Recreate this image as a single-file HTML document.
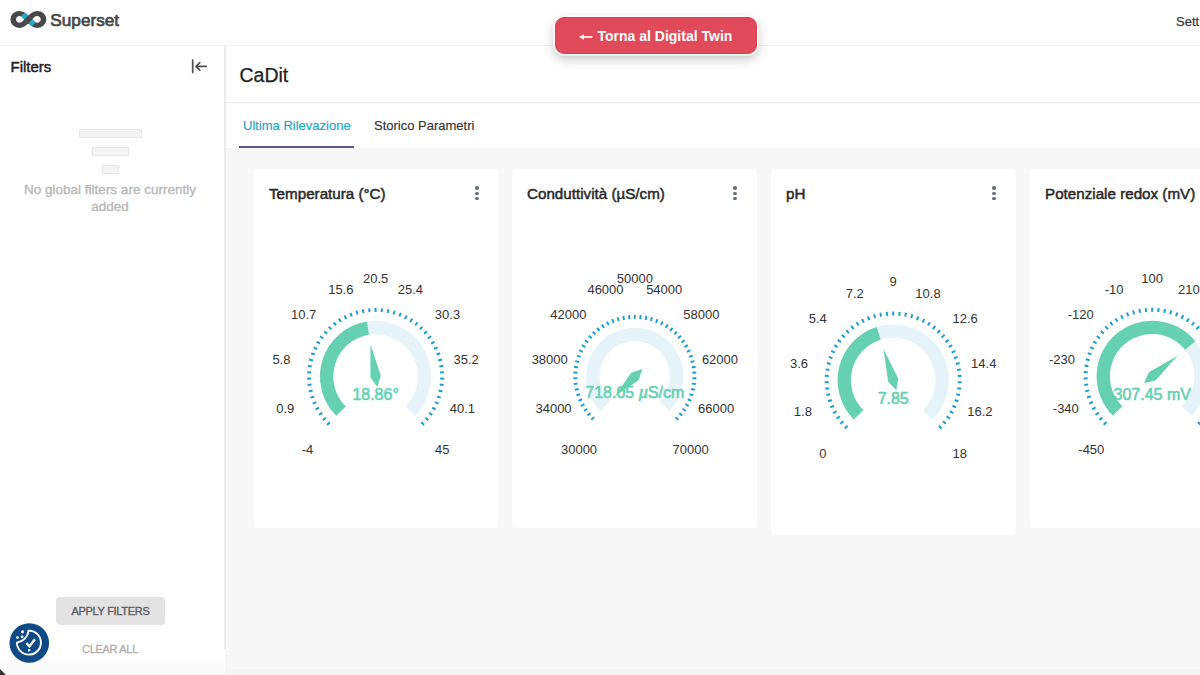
<!DOCTYPE html>
<html><head><meta charset="utf-8">
<style>
*{box-sizing:border-box;margin:0;padding:0}
html,body{width:1200px;height:675px;overflow:hidden;background:#fff;font-family:"Liberation Sans",sans-serif;color:#333}
.abs{position:absolute;white-space:nowrap}
#header{position:absolute;left:0;top:0;width:1200px;height:46px;background:#fff;border-bottom:1px solid #efefef}
#side{position:absolute;left:0;top:46px;width:225px;height:629px;background:#fff}
#sideb{position:absolute;left:224px;top:46px;width:1.5px;height:603px;background:#ebebeb}
#main{position:absolute;left:225px;top:46px;width:975px;height:629px;background:#fff}
#grid{position:absolute;left:225px;top:148px;width:975px;height:527px;background:#f7f7f7}
.card{position:absolute;top:169px;height:359px;background:#fff;border-radius:4px}
.ctitle{position:absolute;left:15px;top:15.7px;font-size:15.2px;color:#2a2a2a;white-space:nowrap;-webkit-text-stroke:0.5px #2a2a2a}
.kebab{position:absolute;top:17px;width:4px;height:14px}
.kebab i{position:absolute;left:0;width:3.6px;height:3.6px;border-radius:50%;background:#65717e}
#btn{position:absolute;left:555px;top:17px;width:202px;height:37px;background:#e04a5a;border-radius:9px;box-shadow:0 0 0 1.5px #fff,0 4px 12px rgba(0,0,0,0.28);border:1px solid #d8404f}
#btn span{position:absolute;left:41.5px;top:10px;font-weight:bold;font-size:14px;line-height:16px;color:#fff}
svg text{font-family:"Liberation Sans",sans-serif}
</style></head>
<body>
<div id="header">
  <svg class="abs" style="left:0;top:0" width="50" height="40" viewBox="0 0 50 40"><g transform="translate(28.35,0) scale(1.075,1) translate(-28.2,0)">
    <path d="M24.24 15.3 L32.16 23.5 A5.9 5.9 0 1 0 32.16 15.3 L24.24 23.5 A5.9 5.9 0 1 1 24.24 15.3 Z" fill="none" stroke="#484848" stroke-width="5.2"/>
    <path d="M23.2 14.2 L33.2 24.6" stroke="#20a7c9" stroke-width="5.2"/>
    <path d="M26.3 21.35 L30.1 17.45" stroke="#484848" stroke-width="5.3"/>
  </g></svg>
  <div class="abs" style="left:50.3px;top:9.9px;font-size:17.2px;color:#474747;-webkit-text-stroke:0.7px #474747">Superset</div>
  <div class="abs" style="left:1176px;top:13.8px;font-size:13px;color:#333;-webkit-text-stroke:0.2px #333">Sett</div>
</div>
<div id="side">
  <div class="abs" style="left:10.5px;top:11.5px;font-size:15px;color:#222;-webkit-text-stroke:0.5px #222">Filters</div>
  <svg class="abs" style="left:190px;top:12px" width="18" height="16" viewBox="0 0 18 16">
    <path d="M2.7 2 V14.4" stroke="#505050" stroke-width="1.7" stroke-linecap="round"/>
    <path d="M16.2 8.4 H6 M9.8 4.6 L6 8.4 L9.8 12.2" stroke="#505050" stroke-width="1.7" fill="none" stroke-linecap="round"/>
  </svg>
  <div class="abs" style="left:79px;top:83px;width:63px;height:9px;border:1.5px solid #e6e6e6;background:#f4f4f4"></div>
  <div class="abs" style="left:92px;top:101px;width:37px;height:9px;border:1.5px solid #e6e6e6;background:#f4f4f4"></div>
  <div class="abs" style="left:102px;top:119px;width:17px;height:9px;border:1.5px solid #e6e6e6;background:#f4f4f4"></div>
  <div class="abs" style="left:0;top:135px;width:220px;text-align:center;font-size:13.5px;line-height:17px;color:#b8b8b8;-webkit-text-stroke:0.35px #b8b8b8">No global filters are currently<br>added</div>
  <div class="abs" style="left:56px;top:551px;width:109px;height:28px;background:#e3e3e3;border-radius:4px"></div>
  <div class="abs" style="left:56px;top:558px;width:109px;text-align:center;font-size:11px;line-height:14px;letter-spacing:-0.3px;color:#5c5c5c;-webkit-text-stroke:0.35px #5c5c5c">APPLY FILTERS</div>
  <div class="abs" style="left:0;top:596px;width:220px;text-align:center;font-size:11px;line-height:14px;letter-spacing:-0.3px;color:#adadad;-webkit-text-stroke:0.3px #adadad">CLEAR ALL</div>
</div>
<div id="main">
  <div class="abs" style="left:14.5px;top:17.5px;font-size:19.5px;color:#1f1f1f;-webkit-text-stroke:0.25px #1f1f1f">CaDit</div>
  <div class="abs" style="left:0;top:56px;width:975px;height:1px;background:#ebebeb"></div>
  <div class="abs" style="left:18px;top:72px;font-size:13px;color:#20a7c9;-webkit-text-stroke:0.15px #20a7c9">Ultima Rilevazione</div>
  <div class="abs" style="left:149px;top:72px;font-size:13px;color:#333;-webkit-text-stroke:0.15px #333">Storico Parametri</div>
  <div class="abs" style="left:14px;top:100px;width:115px;height:2px;background:#535a94"></div>
</div>
<div id="grid"></div>
<div class="abs" style="left:225px;top:669px;width:975px;height:6px;background:#f4f4f4"></div>
<div class="abs" style="left:0;top:660px;width:224px;height:15px;background:#fbfbfb"></div>
<div id="sideb"></div>

<div class="card" style="left:254px;width:244px"><div class="ctitle">Temperatura (°C)</div><div class="kebab" style="left:221px"><i style="top:0.2px"></i><i style="top:5.5px"></i><i style="top:10.8px"></i></div></div>
<div class="card" style="left:512px;width:245px"><div class="ctitle">Conduttività (µS/cm)</div><div class="kebab" style="left:221px"><i style="top:0.2px"></i><i style="top:5.5px"></i><i style="top:10.8px"></i></div></div>
<div class="card" style="left:771px;width:245px;height:366px"><div class="ctitle">pH</div><div class="kebab" style="left:221px"><i style="top:0.2px"></i><i style="top:5.5px"></i><i style="top:10.8px"></i></div></div>
<div class="card" style="left:1030px;width:245px"><div class="ctitle">Potenziale redox (mV)</div></div>

<svg class="abs" style="left:0;top:0" width="1200" height="675" viewBox="0 0 1200 675">
<path d="M336.28,415.82 A55.6,55.6 0 1 1 414.92,415.82 L405.51,406.41 A42.3,42.3 0 1 0 345.69,406.41 Z" fill="#e6f3f9"/>
<path d="M336.28,415.82 A55.6,55.6 0 0 1 366.86,321.59 L368.95,334.73 A42.3,42.3 0 0 0 345.69,406.41 Z" fill="#66d1b0"/>
<path d="M329.92,422.18L327.16,424.94M325.82,417.68L322.82,420.16M322.17,412.81L318.94,415.00M318.99,407.62L315.57,409.50M316.31,402.16L312.73,403.70M314.16,396.46L310.45,397.67M312.56,390.59L308.75,391.44M311.51,384.60L307.64,385.09M311.03,378.53L307.13,378.65M311.13,372.44L307.24,372.20M311.80,366.39L307.94,365.78M313.03,360.43L309.25,359.46M314.82,354.62L311.15,353.30M317.15,348.99L313.62,347.33M320.00,343.62L316.64,341.63M323.34,338.53L320.18,336.24M327.14,333.78L324.22,331.20M331.38,329.41L328.71,326.57M336.01,325.46L333.62,322.37M340.99,321.96L338.90,318.66M346.27,318.94L344.50,315.47M351.82,316.44L350.38,312.81M357.58,314.47L356.49,310.72M363.50,313.04L362.76,309.21M369.52,312.19L369.15,308.30M375.60,311.90L375.60,308.00M381.68,312.19L382.05,308.30M387.70,313.04L388.44,309.21M393.62,314.47L394.71,310.72M399.38,316.44L400.82,312.81M404.93,318.94L406.70,315.47M410.21,321.96L412.30,318.66M415.19,325.46L417.58,322.37M419.82,329.41L422.49,326.57M424.06,333.78L426.98,331.20M427.86,338.53L431.02,336.24M431.20,343.62L434.56,341.63M434.05,348.99L437.58,347.33M436.38,354.62L440.05,353.30M438.17,360.43L441.95,359.46M439.40,366.39L443.26,365.78M440.07,372.44L443.96,372.20M440.17,378.53L444.07,378.65M439.69,384.60L443.56,385.09M438.64,390.59L442.45,391.44M437.04,396.46L440.75,397.67M434.89,402.16L438.47,403.70M432.21,407.62L435.63,409.50M429.03,412.81L432.26,415.00M425.38,417.68L428.38,420.16M421.28,422.18L424.04,424.94" stroke="#1a9fcc" stroke-width="2" fill="none"/>
<text x="301.71" y="454.49" text-anchor="start" font-size="13" fill="#333">-4</text>
<text x="276.21" y="412.89" text-anchor="start" font-size="13" fill="#333">0.9</text>
<text x="272.39" y="364.25" text-anchor="start" font-size="13" fill="#333">5.8</text>
<text x="291.06" y="319.18" text-anchor="start" font-size="13" fill="#333">10.7</text>
<text x="328.16" y="294.19" text-anchor="start" font-size="13" fill="#333">15.6</text>
<text x="375.60" y="282.80" text-anchor="middle" font-size="13" fill="#333">20.5</text>
<text x="423.04" y="294.19" text-anchor="end" font-size="13" fill="#333">25.4</text>
<text x="460.14" y="319.18" text-anchor="end" font-size="13" fill="#333">30.3</text>
<text x="478.81" y="364.25" text-anchor="end" font-size="13" fill="#333">35.2</text>
<text x="474.99" y="412.89" text-anchor="end" font-size="13" fill="#333">40.1</text>
<text x="449.49" y="454.49" text-anchor="end" font-size="13" fill="#333">45</text>
<path d="M377.27,386.97L380.83,375.67L370.47,344.27L370.37,377.33Z" fill="#66d1b0"/>
<text x="375.60" y="400.00" text-anchor="middle" font-size="16" fill="#66d1b0" stroke="#66d1b0" stroke-width="0.6">18.86°</text>
<path d="M600.48,410.77 A48.6,48.6 0 1 1 669.22,410.77 L659.81,401.36 A35.3,35.3 0 1 0 609.89,401.36 Z" fill="#e6f3f9"/>
<path d="M594.12,417.13L591.36,419.89M590.47,413.12L587.46,415.60M587.21,408.78L583.98,410.97M584.37,404.15L580.96,406.03M581.99,399.28L578.41,400.82M580.07,394.20L576.36,395.40M578.64,388.97L574.83,389.82M577.70,383.62L573.83,384.11M577.28,378.21L573.38,378.33M577.36,372.78L573.47,372.54M577.96,367.39L574.11,366.78M579.06,362.08L575.28,361.11M580.66,356.89L576.99,355.57M582.73,351.88L579.20,350.21M585.27,347.08L581.91,345.09M588.25,342.54L585.10,340.25M591.64,338.31L588.72,335.73M595.42,334.41L592.75,331.57M599.55,330.89L597.16,327.81M603.99,327.77L601.90,324.47M608.70,325.08L606.93,321.60M613.65,322.84L612.21,319.22M618.78,321.09L617.69,317.34M624.06,319.82L623.33,315.99M629.43,319.06L629.06,315.17M634.85,318.80L634.85,314.90M640.27,319.06L640.64,315.17M645.64,319.82L646.37,315.99M650.92,321.09L652.01,317.34M656.05,322.84L657.49,319.22M661.00,325.08L662.77,321.60M665.71,327.77L667.80,324.47M670.15,330.89L672.54,327.81M674.28,334.41L676.95,331.57M678.06,338.31L680.98,335.73M681.45,342.54L684.60,340.25M684.43,347.08L687.79,345.09M686.97,351.88L690.50,350.21M689.04,356.89L692.71,355.57M690.64,362.08L694.42,361.11M691.74,367.39L695.59,366.78M692.34,372.78L696.23,372.54M692.42,378.21L696.32,378.33M692.00,383.62L695.87,384.11M691.06,388.97L694.87,389.82M689.63,394.20L693.34,395.40M687.71,399.28L691.29,400.82M685.33,404.15L688.74,406.03M682.49,408.78L685.72,410.97M679.23,413.12L682.24,415.60M675.58,417.13L678.34,419.89" stroke="#1a9fcc" stroke-width="2" fill="none"/>
<text x="560.96" y="454.39" text-anchor="start" font-size="13" fill="#333">30000</text>
<text x="535.46" y="412.79" text-anchor="start" font-size="13" fill="#333">34000</text>
<text x="531.64" y="364.15" text-anchor="start" font-size="13" fill="#333">38000</text>
<text x="550.31" y="319.08" text-anchor="start" font-size="13" fill="#333">42000</text>
<text x="587.41" y="294.09" text-anchor="start" font-size="13" fill="#333">46000</text>
<text x="634.85" y="282.70" text-anchor="middle" font-size="13" fill="#333">50000</text>
<text x="682.29" y="294.09" text-anchor="end" font-size="13" fill="#333">54000</text>
<text x="719.39" y="319.08" text-anchor="end" font-size="13" fill="#333">58000</text>
<text x="738.06" y="364.15" text-anchor="end" font-size="13" fill="#333">62000</text>
<text x="734.24" y="412.79" text-anchor="end" font-size="13" fill="#333">66000</text>
<text x="708.74" y="454.39" text-anchor="end" font-size="13" fill="#333">70000</text>
<path d="M642.35,368.90L631.10,372.65L614.68,396.57L638.60,380.15Z" fill="#66d1b0"/>
<text x="634.85" y="397.70" text-anchor="middle" font-size="16" fill="#66d1b0" stroke="#66d1b0" stroke-width="0.6">718.05 <tspan font-style="italic">µ</tspan>S/cm</text>
<path d="M853.88,419.42 A55.6,55.6 0 1 1 932.52,419.42 L923.11,410.01 A42.3,42.3 0 1 0 863.29,410.01 Z" fill="#e6f3f9"/>
<path d="M853.88,419.42 A55.6,55.6 0 0 1 876.71,327.00 L880.66,339.70 A42.3,42.3 0 0 0 863.29,410.01 Z" fill="#66d1b0"/>
<path d="M847.52,425.78L844.76,428.54M843.42,421.28L840.42,423.76M839.77,416.41L836.54,418.60M836.59,411.22L833.17,413.10M833.91,405.76L830.33,407.30M831.76,400.06L828.05,401.27M830.16,394.19L826.35,395.04M829.11,388.20L825.24,388.69M828.63,382.13L824.73,382.25M828.73,376.04L824.84,375.80M829.40,369.99L825.54,369.38M830.63,364.03L826.85,363.06M832.42,358.22L828.75,356.90M834.75,352.59L831.22,350.93M837.60,347.22L834.24,345.23M840.94,342.13L837.78,339.84M844.74,337.38L841.82,334.80M848.98,333.01L846.31,330.17M853.61,329.06L851.22,325.97M858.59,325.56L856.50,322.26M863.87,322.54L862.10,319.07M869.42,320.04L867.98,316.41M875.18,318.07L874.09,314.32M881.10,316.64L880.36,312.81M887.12,315.79L886.75,311.90M893.20,315.50L893.20,311.60M899.28,315.79L899.65,311.90M905.30,316.64L906.04,312.81M911.22,318.07L912.31,314.32M916.98,320.04L918.42,316.41M922.53,322.54L924.30,319.07M927.81,325.56L929.90,322.26M932.79,329.06L935.18,325.97M937.42,333.01L940.09,330.17M941.66,337.38L944.58,334.80M945.46,342.13L948.62,339.84M948.80,347.22L952.16,345.23M951.65,352.59L955.18,350.93M953.98,358.22L957.65,356.90M955.77,364.03L959.55,363.06M957.00,369.99L960.86,369.38M957.67,376.04L961.56,375.80M957.77,382.13L961.67,382.25M957.29,388.20L961.16,388.69M956.24,394.19L960.05,395.04M954.64,400.06L958.35,401.27M952.49,405.76L956.07,407.30M949.81,411.22L953.23,413.10M946.63,416.41L949.86,418.60M942.98,421.28L945.98,423.76M938.88,425.78L941.64,428.54" stroke="#1a9fcc" stroke-width="2" fill="none"/>
<text x="819.31" y="458.09" text-anchor="start" font-size="13" fill="#333">0</text>
<text x="793.81" y="416.49" text-anchor="start" font-size="13" fill="#333">1.8</text>
<text x="789.99" y="367.85" text-anchor="start" font-size="13" fill="#333">3.6</text>
<text x="808.66" y="322.78" text-anchor="start" font-size="13" fill="#333">5.4</text>
<text x="845.76" y="297.79" text-anchor="start" font-size="13" fill="#333">7.2</text>
<text x="893.20" y="286.40" text-anchor="middle" font-size="13" fill="#333">9</text>
<text x="940.64" y="297.79" text-anchor="end" font-size="13" fill="#333">10.8</text>
<text x="977.74" y="322.78" text-anchor="end" font-size="13" fill="#333">12.6</text>
<text x="996.41" y="367.85" text-anchor="end" font-size="13" fill="#333">14.4</text>
<text x="992.59" y="416.49" text-anchor="end" font-size="13" fill="#333">16.2</text>
<text x="967.09" y="458.09" text-anchor="end" font-size="13" fill="#333">18</text>
<path d="M896.34,390.22L898.26,378.53L883.52,348.93L888.14,381.67Z" fill="#66d1b0"/>
<text x="893.20" y="403.80" text-anchor="middle" font-size="16" fill="#66d1b0" stroke="#66d1b0" stroke-width="0.6">7.85</text>
<path d="M1112.88,415.62 A55.6,55.6 0 1 1 1191.52,415.62 L1182.11,406.21 A42.3,42.3 0 1 0 1122.29,406.21 Z" fill="#e6f3f9"/>
<path d="M1112.88,415.62 A55.6,55.6 0 1 1 1195.36,341.25 L1185.04,349.64 A42.3,42.3 0 1 0 1122.29,406.21 Z" fill="#66d1b0"/>
<path d="M1106.52,421.98L1103.76,424.74M1102.42,417.48L1099.42,419.96M1098.77,412.61L1095.54,414.80M1095.59,407.42L1092.17,409.30M1092.91,401.96L1089.33,403.50M1090.76,396.26L1087.05,397.47M1089.16,390.39L1085.35,391.24M1088.11,384.40L1084.24,384.89M1087.63,378.33L1083.73,378.45M1087.73,372.24L1083.84,372.00M1088.40,366.19L1084.54,365.58M1089.63,360.23L1085.85,359.26M1091.42,354.42L1087.75,353.10M1093.75,348.79L1090.22,347.13M1096.60,343.42L1093.24,341.43M1099.94,338.33L1096.78,336.04M1103.74,333.58L1100.82,331.00M1107.98,329.21L1105.31,326.37M1112.61,325.26L1110.22,322.17M1117.59,321.76L1115.50,318.46M1122.87,318.74L1121.10,315.27M1128.42,316.24L1126.98,312.61M1134.18,314.27L1133.09,310.52M1140.10,312.84L1139.36,309.01M1146.12,311.99L1145.75,308.10M1152.20,311.70L1152.20,307.80M1158.28,311.99L1158.65,308.10M1164.30,312.84L1165.04,309.01M1170.22,314.27L1171.31,310.52M1175.98,316.24L1177.42,312.61M1181.53,318.74L1183.30,315.27M1186.81,321.76L1188.90,318.46M1191.79,325.26L1194.18,322.17M1196.42,329.21L1199.09,326.37M1200.66,333.58L1203.58,331.00M1204.46,338.33L1207.62,336.04M1207.80,343.42L1211.16,341.43M1210.65,348.79L1214.18,347.13M1212.98,354.42L1216.65,353.10M1214.77,360.23L1218.55,359.26M1216.00,366.19L1219.86,365.58M1216.67,372.24L1220.56,372.00M1216.77,378.33L1220.67,378.45M1216.29,384.40L1220.16,384.89M1215.24,390.39L1219.05,391.24M1213.64,396.26L1217.35,397.47M1211.49,401.96L1215.07,403.50M1208.81,407.42L1212.23,409.30M1205.63,412.61L1208.86,414.80M1201.98,417.48L1204.98,419.96M1197.88,421.98L1200.64,424.74" stroke="#1a9fcc" stroke-width="2" fill="none"/>
<text x="1078.31" y="454.29" text-anchor="start" font-size="13" fill="#333">-450</text>
<text x="1052.81" y="412.69" text-anchor="start" font-size="13" fill="#333">-340</text>
<text x="1048.99" y="364.05" text-anchor="start" font-size="13" fill="#333">-230</text>
<text x="1067.66" y="318.98" text-anchor="start" font-size="13" fill="#333">-120</text>
<text x="1104.76" y="293.99" text-anchor="start" font-size="13" fill="#333">-10</text>
<text x="1152.20" y="282.60" text-anchor="middle" font-size="13" fill="#333">100</text>
<text x="1199.64" y="293.99" text-anchor="end" font-size="13" fill="#333">210</text>
<text x="1236.74" y="318.98" text-anchor="end" font-size="13" fill="#333">320</text>
<text x="1255.41" y="364.05" text-anchor="end" font-size="13" fill="#333">430</text>
<text x="1251.59" y="412.69" text-anchor="end" font-size="13" fill="#333">540</text>
<text x="1226.09" y="454.29" text-anchor="end" font-size="13" fill="#333">650</text>
<path d="M1143.97,382.98L1155.54,380.41L1177.54,355.73L1148.86,372.19Z" fill="#66d1b0"/>
<text x="1152.20" y="400.40" text-anchor="middle" font-size="16" fill="#66d1b0" stroke="#66d1b0" stroke-width="0.6">307.45 mV</text>
</svg>
<div id="btn"><svg class="abs" style="left:22px;top:14px" width="16" height="10" viewBox="0 0 16 10"><path d="M2 5 H14.5" stroke="#fff" stroke-width="1.6"/><path d="M1 5 L6 2.2 L6 7.8 Z" fill="#fff"/></svg><span>Torna al Digital Twin</span></div>

<svg class="abs" style="left:9px;top:623px" width="41" height="41" viewBox="0 0 41 41">
  <circle cx="20.3" cy="20" r="19.8" fill="#0f4a87"/>
  <path d="M19.6 7.6 A12 12 0 1 1 7.9 19.6 A13.5 13.5 0 0 0 19.6 7.6 Z" fill="none" stroke="#fff" stroke-width="1.9" stroke-linejoin="round"/>
  <circle cx="13.6" cy="8.8" r="1.5" fill="#fff"/>
  <circle cx="13.1" cy="13.8" r="1.4" fill="#fff"/>
  <circle cx="8.5" cy="14.6" r="1.4" fill="#fff"/>
  <path d="M17.4 20.1 L20.4 23.4 L25.9 16.3" fill="none" stroke="#fff" stroke-width="2.3" stroke-linecap="butt" stroke-linejoin="miter"/>
  <rect x="19" y="26.1" width="2.3" height="2.3" fill="#fff"/>
</svg>
<div class="abs" style="left:0;top:669px;width:0;height:0;border-bottom:6px solid #333;border-right:6.5px solid transparent"></div>
</body></html>
